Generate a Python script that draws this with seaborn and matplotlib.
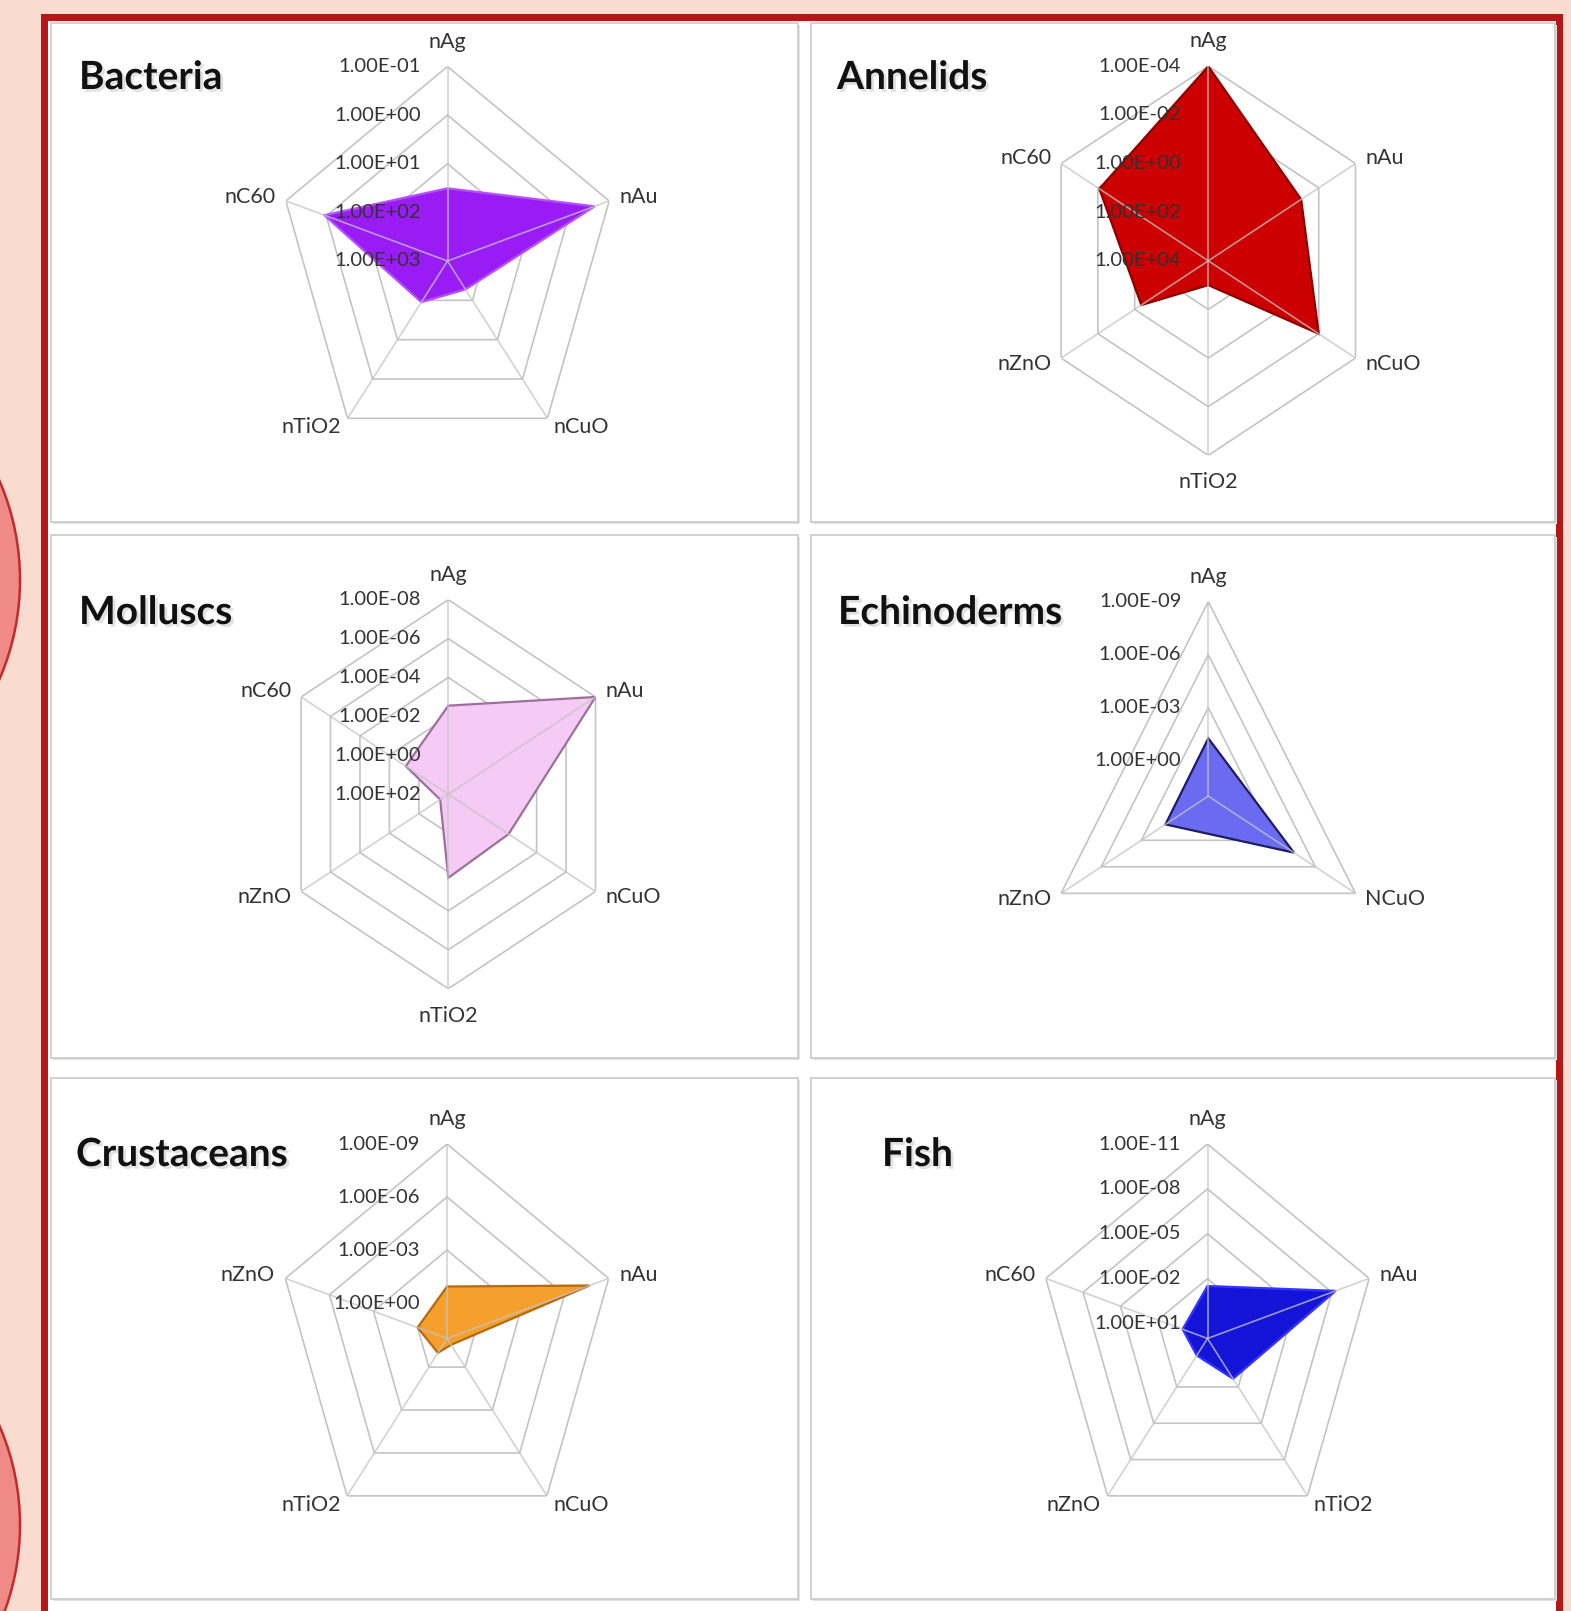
import numpy as np
import matplotlib
matplotlib.use("Agg")
import matplotlib.pyplot as plt
import matplotlib.patches as mpatches
import matplotlib.transforms as mtrans
import matplotlib.patheffects as pe
import seaborn as sns

# ---------------- data ----------------
bacteria_cats = ["nAg", "nAu", "nCuO", "nTiO2", "nC60"]
bacteria_vals = [32, 0.23, 190, 90, 0.9]
bacteria_ticks = [1e-1, 1e0, 1e1, 1e2, 1e3]
bacteria_center = 1e3

annelids_cats = ["nAg", "nAu", "nCuO", "nTiO2", "nZnO", "nC60"]
annelids_vals = [1e-4, 0.09, 0.01, 1000, 2.3, 0.012]
annelids_ticks = [1e-4, 1e-2, 1e0, 1e2, 1e4]
annelids_center = 1e4

molluscs_cats = ["nAg", "nAu", "nCuO", "nTiO2", "nZnO", "nC60"]
molluscs_vals = [0.0028, 1e-8, 0.008, 0.005, 28, 0.13]
molluscs_ticks = [1e-8, 1e-6, 1e-4, 1e-2, 1e0, 1e2]
molluscs_center = 1e2

echino_cats = ["nAg", "NCuO", "nZnO"]
echino_vals = [0.054, 4e-5, 0.063]
echino_ticks = [1e-9, 1e-6, 1e-3, 1e0]
echino_center = 1e2

crust_cats = ["nAg", "nAu", "nCuO", "nTiO2", "nZnO"]
crust_vals = [0.115, 2e-8, 36, 10, 1.0]
crust_ticks = [1e-9, 1e-6, 1e-3, 1e0]
crust_center = 1e2

fish_cats = ["nAg", "nAu", "nTiO2", "nZnO", "nC60"]
fish_vals = [0.031, 5e-9, 0.047, 4, 1.0]
fish_ticks = [1e-11, 1e-8, 1e-5, 1e-2, 1e1]
fish_center = 1e2

titles = ["Bacteria", "Annelids", "Molluscs", "Echinoderms", "Crustaceans", "Fish"]

# ---------------- styling / layout ----------------
sns.set_theme(style="white")
plt.rcParams["font.family"] = ["Lato", "DejaVu Sans"]

W, H = 1571, 1611
fig = plt.figure(figsize=(W / 100, H / 100), dpi=100)

bg = fig.add_axes([0, 0, 1, 1], zorder=-10)
bg.set_xlim(0, W)
bg.set_ylim(H, 0)
bg.axis("off")
bg.add_patch(mpatches.Rectangle((0, 0), W, H, facecolor="#FADBD0", edgecolor="none"))
for cy in (580, 1525):
    bg.add_patch(mpatches.Circle((-230, cy), 250, facecolor="#F08A86",
                                 edgecolor="#C42A2A", linewidth=1.8))
bg.add_patch(mpatches.Rectangle((41, 14), 1522, 1620, facecolor="#B51616", edgecolor="none"))
bg.add_patch(mpatches.Rectangle((48, 21), 1508, 1620, facecolor="white", edgecolor="none"))

panel_boxes = [(51, 23, 798, 522), (811, 23, 1555, 522),
               (51, 535, 798, 1058), (811, 535, 1555, 1058),
               (51, 1078, 798, 1599), (811, 1078, 1555, 1599)]
for (x0, y0, x1, y1) in panel_boxes:
    bg.add_patch(mpatches.Rectangle((x0 + 2, y0 + 2), x1 - x0, y1 - y0,
                                    facecolor="#E3E3E3", edgecolor="none"))
    bg.add_patch(mpatches.Rectangle((x0, y0), x1 - x0, y1 - y0,
                                    facecolor="white", edgecolor="#C9C9C9", linewidth=1.2))

charts = [
    dict(cats=bacteria_cats, vals=bacteria_vals, ticks=bacteria_ticks, center=bacteria_center,
         face="#9A1CF5", edge="#B650FF", cx=447.5, cy=261.0, title_xy=(79, 89)),
    dict(cats=annelids_cats, vals=annelids_vals, ticks=annelids_ticks, center=annelids_center,
         face="#CC0000", edge="#8E0000", cx=1208.3, cy=260.8, title_xy=(837, 89)),
    dict(cats=molluscs_cats, vals=molluscs_vals, ticks=molluscs_ticks, center=molluscs_center,
         face="#F5CBF5", edge="#9C709C", cx=448.3, cy=794.2, title_xy=(79, 624)),
    dict(cats=echino_cats, vals=echino_vals, ticks=echino_ticks, center=echino_center,
         face="#6B6BF2", edge="#1C1C62", cx=1208.3, cy=796.1, title_xy=(838, 624)),
    dict(cats=crust_cats, vals=crust_vals, ticks=crust_ticks, center=crust_center,
         face="#F5A02C", edge="#B8680F", cx=447.0, cy=1338.5, title_xy=(76, 1166)),
    dict(cats=fish_cats, vals=fish_vals, ticks=fish_ticks, center=fish_center,
         face="#1414D8", edge="#3535FF", cx=1207.5, cy=1338.5, title_xy=(882, 1166)),
]

RX, RY = 170.0, 194.5
grid_col = "#C4C4C4"
text_col = "#333333"

for title, ch in zip(titles, charts):
    n = len(ch["cats"])
    theta = np.arange(n) * 2 * np.pi / n
    th_closed = np.append(theta, theta[0])
    outer = ch["ticks"][0]
    center = ch["center"]

    ax = fig.add_axes([(ch["cx"] - RX) / W, 1 - (ch["cy"] + RY) / H, 2 * RX / W, 2 * RY / H],
                      projection="polar")
    ax.set_aspect("auto")
    ax.set_theta_zero_location("N")
    ax.set_theta_direction(-1)
    ax.set_rscale("log")
    ax.set_rlim(center, outer)
    ax.grid(False)
    ax.spines["polar"].set_visible(False)
    ax.patch.set_alpha(0)
    ax.set_xticks([])
    ax.set_yticks([])

    # polygon rings
    for t in ch["ticks"]:
        if t == center:
            continue
        ax.plot(th_closed, [t] * (n + 1), color=grid_col, lw=1.2, zorder=1)
    # data polygon
    v_closed = list(ch["vals"]) + [ch["vals"][0]]
    ax.fill(th_closed, v_closed, facecolor=ch["face"], edgecolor=ch["edge"], lw=1.6, zorder=2)
    # spokes
    for th in theta:
        ax.plot([th, th], [center, outer], color=grid_col, lw=1.2, zorder=3, alpha=0.75)
    ax.set_rlim(center, outer)

    # radial tick labels
    tr = mtrans.offset_copy(ax.transData, fig=fig, x=-27, y=0, units="dots")
    for t in ch["ticks"]:
        ax.text(0, t, f"{t:.2E}", transform=tr, ha="right", va="center",
                fontsize=14.5, color=text_col, zorder=5)

    # category labels
    for th, lab in zip(theta, ch["cats"]):
        s, c = np.sin(th), np.cos(th)
        if abs(s) < 0.01:
            d = 25 if c > 0 else 27
            ha = "center"
        else:
            d = 11
            ha = "left" if s > 0 else "right"
        trc = mtrans.offset_copy(ax.transData, fig=fig, x=d * s, y=d * c, units="dots")
        ax.text(th, outer, lab, transform=trc, ha=ha, va="center",
                fontsize=15.5, color=text_col, zorder=5)

    # title
    bg.text(ch["title_xy"][0], ch["title_xy"][1], title, fontsize=28, fontweight="bold",
            color="#111111", ha="left", va="baseline",
            path_effects=[pe.withSimplePatchShadow(offset=(2, -2), shadow_rgbFace="#888888",
                                                   alpha=0.25)])

fig.savefig("out.png", dpi=100)
